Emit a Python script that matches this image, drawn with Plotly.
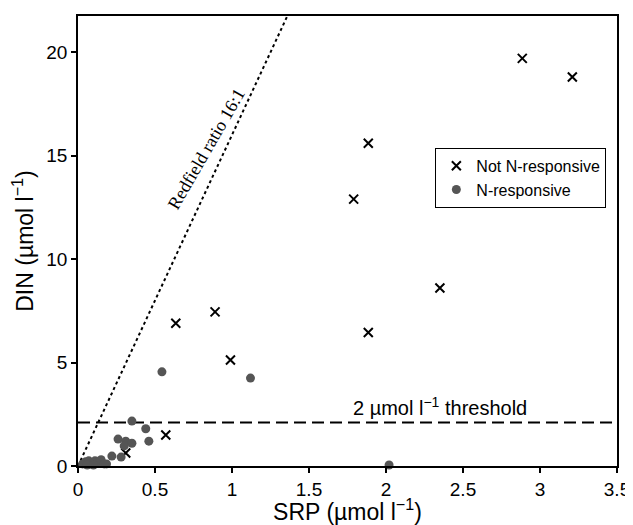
import plotly.graph_objects as go

# Not N-responsive (crosses)
not_resp_srp = [2.885, 3.21, 1.885, 1.79, 2.35, 1.885, 0.89, 0.635, 0.99, 0.57, 0.31]
not_resp_din = [19.7, 18.8, 15.6, 12.9, 8.6, 6.45, 7.45, 6.9, 5.12, 1.5, 0.63]

# N-responsive (circles)
resp_srp = [0.545, 1.12, 2.02, 0.35, 0.44, 0.46, 0.26, 0.31, 0.35, 0.30, 0.28, 0.22, 0.185,
            0.03, 0.05, 0.07, 0.09, 0.11, 0.13, 0.15, 0.17, 0.06, 0.10]
resp_din = [4.55, 4.25, 0.05, 2.17, 1.8, 1.2, 1.3, 1.2, 1.1, 0.97, 0.43, 0.48, 0.1,
            0.1, 0.2, 0.25, 0.15, 0.25, 0.2, 0.3, 0.1, 0.05, 0.05]

redfield_ratio = 16
threshold = 2.1
x_ticks = [0, 0.5, 1, 1.5, 2, 2.5, 3, 3.5]
x_tick_labels = ["0", "0.5", "1", "1.5", "2", "2.5", "3", "3.5"]
y_ticks = [0, 5, 10, 15, 20]
x_range = [0, 3.5]
y_range = [0, 21.75]

fig = go.Figure()

# Redfield line
fig.add_trace(go.Scatter(
    x=[0, 1.45], y=[0, 1.45 * redfield_ratio], mode="lines",
    line=dict(color="black", width=2, dash="dot"), showlegend=False, hoverinfo="skip"))

# Threshold line
fig.add_trace(go.Scatter(
    x=x_range, y=[threshold, threshold], mode="lines",
    line=dict(color="black", width=2, dash="12px,6px"), showlegend=False, hoverinfo="skip"))

fig.add_trace(go.Scatter(
    x=not_resp_srp, y=not_resp_din, mode="markers", name="Not N-responsive",
    marker=dict(symbol="x-thin", size=9, line=dict(color="black", width=2), color="black"),
    cliponaxis=False))

fig.add_trace(go.Scatter(
    x=resp_srp, y=resp_din, mode="markers", name="N-responsive",
    marker=dict(symbol="circle", size=9, color="#555555"),
    cliponaxis=False))

fig.add_annotation(x=0.835, y=15.3, xref="x", yref="y", text="Redfield ratio 16:1",
                   showarrow=False, textangle=-60,
                   font=dict(family="Liberation Serif, Times New Roman, serif", size=18, color="black"))

fig.add_annotation(x=2.35, y=2.9, xref="x", yref="y",
                   text="2 µmol l<sup>−1</sup> threshold", showarrow=False,
                   font=dict(family="Liberation Sans, Arial, sans-serif", size=20, color="black"))

fig.update_layout(
    width=625, height=517,
    margin=dict(l=70, r=16, t=8, b=59),
    plot_bgcolor="white", paper_bgcolor="white",
    font=dict(family="Liberation Sans, Arial, sans-serif", size=17, color="black"),
    legend=dict(x=0.663, y=0.707, xanchor="left", yanchor="top",
                bordercolor="black", borderwidth=1, bgcolor="white",
                font=dict(size=16), itemwidth=30, tracegroupgap=0),
    xaxis=dict(range=x_range, tickvals=x_ticks, ticktext=x_tick_labels, automargin=False,
               ticklabeloverflow="allow",
               showgrid=False, zeroline=False, showline=True, linecolor="black", linewidth=1.5,
               mirror=True, ticks="outside", ticklen=5, tickwidth=1.5, tickcolor="black",
               tickfont=dict(size=19),
               title=dict(text="SRP (µmol l<sup>−1</sup>)", font=dict(size=23))),
    yaxis=dict(range=y_range, tickvals=y_ticks, automargin=False,
               ticklabeloverflow="allow",
               showgrid=False, zeroline=False, showline=True, linecolor="black", linewidth=1.5,
               mirror=True, ticks="outside", ticklen=5, tickwidth=1.5, tickcolor="black",
               tickfont=dict(size=19),
               title=dict(text="DIN (µmol l<sup>−1</sup>)", font=dict(size=23))),
)

fig.write_html("out.html")
